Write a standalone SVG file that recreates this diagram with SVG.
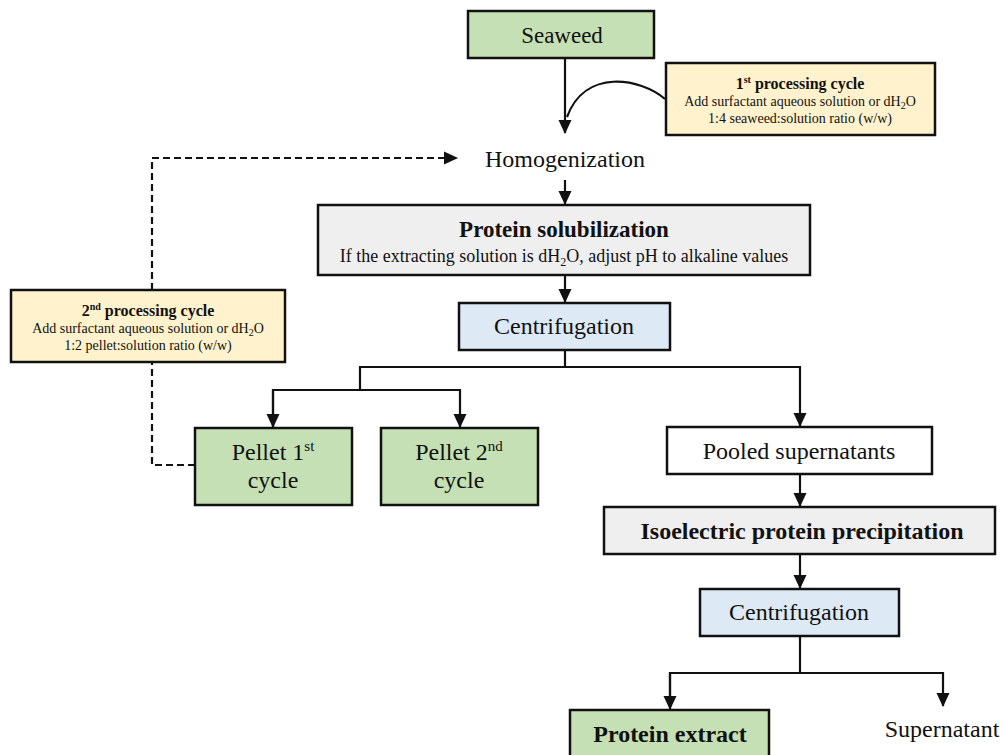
<svg xmlns="http://www.w3.org/2000/svg" width="1004" height="755" viewBox="0 0 1004 755">
<style>
text{fill:#111;text-anchor:middle;font-family:"Liberation Serif","Times New Roman","DejaVu Serif",serif}
.box{stroke:#111;stroke-width:2.5}
.green{fill:#c5e0b4}.yellow{fill:#fff2cc}.gray{fill:#efefef}.blue{fill:#dde9f5}.white{fill:#fff}
.ln{fill:none;stroke:#111;stroke-width:2.2}
.dash{fill:none;stroke:#111;stroke-width:2.2;stroke-dasharray:7 4}
.b{font-weight:bold}
.big{font-size:24px}
</style>
<defs>
<marker id="ah" markerWidth="7" markerHeight="6" refX="6" refY="3" orient="auto" markerUnits="strokeWidth">
<path d="M0,0 L6.5,3 L0,6 Z" fill="#111"/>
</marker>
</defs>
<rect width="1004" height="755" fill="#fff"/>
<g id="connectors">
<line class="ln" x1="565" y1="58" x2="565" y2="133" marker-end="url(#ah)"/>
<path class="ln" d="M665,99 C640,78 585,68 567,117"/>
<line class="ln" x1="565" y1="180" x2="565" y2="204" marker-end="url(#ah)"/>
<line class="ln" x1="565" y1="275" x2="565" y2="302" marker-end="url(#ah)"/>
<polyline class="ln" points="565,350 565,367"/>
<polyline class="ln" points="360,390 360,367 800,367 800,426" marker-end="url(#ah)"/>
<polyline class="ln" points="273,427 273,390 460,390 460,427" marker-end="url(#ah)"/>
<line class="ln" x1="273" y1="390" x2="273" y2="427" marker-end="url(#ah)"/>
<line class="ln" x1="800" y1="474" x2="800" y2="506" marker-end="url(#ah)"/>
<line class="ln" x1="800" y1="554" x2="800" y2="588" marker-end="url(#ah)"/>
<polyline class="ln" points="800,636 800,673"/>
<polyline class="ln" points="670,707 670,673 943,673 943,706" marker-end="url(#ah)"/>
<line class="ln" x1="670" y1="673" x2="670" y2="709" marker-end="url(#ah)"/>
<polyline class="dash" points="195,465 152,465 152,362"/>
<polyline class="dash" points="152,290 152,158 457,158" marker-end="url(#ah)"/>
</g>
<g id="seaweed">
<rect class="box green" x="468" y="11" width="186" height="47"/>
<text x="562" y="43" font-size="23">Seaweed</text>
</g>
<g id="cycle1">
<rect class="box yellow" x="666" y="63" width="269" height="72"/>
<text x="800" y="89" font-size="16" class="b">1<tspan font-size="10" dy="-6">st</tspan><tspan dy="6"> processing cycle</tspan></text>
<text x="800" y="106" font-size="14">Add surfactant aqueous solution or dH<tspan font-size="10" dy="3">2</tspan><tspan dy="-3">O</tspan></text>
<text x="800" y="123" font-size="14">1:4 seaweed:solution ratio (w/w)</text>
</g>
<g id="homogenization">
<text x="565" y="167" class="big">Homogenization</text>
</g>
<g id="solubilization">
<rect class="box gray" x="318" y="205" width="492" height="70"/>
<text x="564" y="237" font-size="23" class="b">Protein solubilization</text>
<text x="564" y="262" font-size="18">If the extracting solution is dH<tspan font-size="12" dy="4">2</tspan><tspan dy="-4">O, adjust pH to alkaline values</tspan></text>
</g>
<g id="centrifugation1">
<rect class="box blue" x="459" y="303" width="211" height="47"/>
<text x="564" y="334" class="big">Centrifugation</text>
</g>
<g id="cycle2">
<rect class="box yellow" x="11" y="290" width="274" height="72"/>
<text x="148" y="316" font-size="16" class="b">2<tspan font-size="10" dy="-6">nd</tspan><tspan dy="6"> processing cycle</tspan></text>
<text x="148" y="333" font-size="14">Add surfactant aqueous solution or dH<tspan font-size="10" dy="3">2</tspan><tspan dy="-3">O</tspan></text>
<text x="148" y="350" font-size="14">1:2 pellet:solution ratio (w/w)</text>
</g>
<g id="pellet1">
<rect class="box green" x="195" y="428" width="157" height="77"/>
<text x="273" y="460" class="big">Pellet 1<tspan font-size="15" dy="-9">st</tspan></text>
<text x="273" y="488" class="big">cycle</text>
</g>
<g id="pellet2">
<rect class="box green" x="381" y="428" width="157" height="77"/>
<text x="459" y="460" class="big">Pellet 2<tspan font-size="15" dy="-9">nd</tspan></text>
<text x="459" y="488" class="big">cycle</text>
</g>
<g id="pooled">
<rect class="box white" x="667" y="427" width="265" height="47"/>
<text x="799" y="459" class="big">Pooled supernatants</text>
</g>
<g id="isoelectric">
<rect class="box gray" x="604" y="507" width="391" height="47"/>
<text x="802" y="539" class="big b">Isoelectric protein precipitation</text>
</g>
<g id="centrifugation2">
<rect class="box blue" x="700" y="589" width="199" height="47"/>
<text x="799" y="620" class="big">Centrifugation</text>
</g>
<g id="extract">
<rect class="box green" x="570" y="710" width="199" height="50"/>
<text x="670" y="742" class="big b">Protein extract</text>
</g>
<g id="supernatant">
<text x="942" y="737" class="big">Supernatant</text>
</g>
</svg>
